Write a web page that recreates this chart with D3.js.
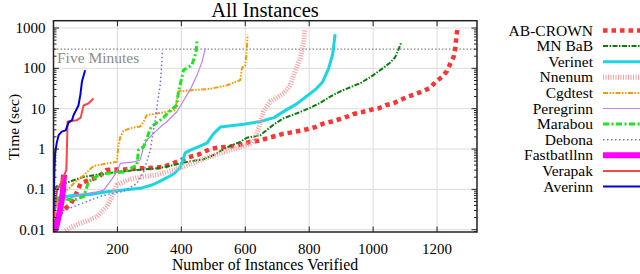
<!DOCTYPE html>
<html>
<head>
<meta charset="utf-8">
<script src="https://cdn.jsdelivr.net/npm/d3@7"></script>
<style>
  html, body { margin: 0; padding: 0; background: #fff; }
  svg { display: block; font-family: "Liberation Serif", "Times New Roman", serif; }
</style>
</head>
<body>
<svg id="chart" width="640" height="274"></svg>
<script>
// ---------- DATA (instances verified, time in sec) ----------
const abCrown = [[5,0.015],[20,0.025],[40,0.035],[55,0.045],[70,0.075],[85,0.14],[110,0.17],[140,0.2],[165,0.3],[195,0.31],[225,0.31],[260,0.33],[300,0.34],[345,0.36],[376,0.45],[420,0.62],[450,0.71],[490,1.0],[520,1.1],[550,1.14],[580,1.26],[615,1.5],[640,1.6],[668,1.84],[694,2.1],[715,2.35],[741,2.55],[767,2.8],[793,3.1],[819,3.5],[845,4.3],[871,4.8],[892,5.4],[918,6.3],[939,7.4],[965,8.2],[991,9.3],[1017,10.2],[1041,12.3],[1064,13.6],[1085,16.4],[1108,19.8],[1132,23],[1158,27.5],[1179,33],[1195,46],[1216,62],[1231,86],[1242,134],[1252,195],[1257,316],[1260,560],[1263,900]];
const mnBab = [[3,0.1],[10,0.12],[40,0.145],[90,0.2],[150,0.24],[215,0.28],[280,0.31],[334,0.34],[376,0.4],[418,0.48],[470,0.56],[501,0.71],[543,1.1],[584,1.5],[605,1.9],[647,2.2],[668,3],[694,4.3],[720,5.8],[762,7.7],[803,10.5],[835,14],[866,20],[898,27],[929,34],[960,43],[991,60],[1022,90],[1054,140],[1069,190],[1080,300],[1087,420]];
const verinet = [[2,0.05],[10,0.06],[31,0.065],[60,0.07],[115,0.075],[167,0.087],[219,0.096],[271,0.106],[310,0.13],[334,0.16],[376,0.24],[397,0.35],[412,0.8],[430,0.95],[449,1.1],[480,1.4],[501,2.4],[522,3.5],[595,4.1],[647,4.8],[690,6],[727,9.2],[760,13],[791,20],[820,30],[842,46],[861,100],[874,235],[881,700]];
const nnenum = [[37,0.0095],[60,0.012],[84,0.0144],[110,0.017],[136,0.021],[155,0.03],[167,0.037],[183,0.066],[198,0.128],[230,0.17],[271,0.2],[324,0.23],[376,0.3],[420,0.4],[472,0.58],[536,0.86],[587,1.15],[621,1.4],[632,2.0],[645,4],[657,8.4],[678,15],[720,24],[741,38],[751,68],[772,178],[783,460],[786,950]];
const cgdtest = [[2,0.02],[10,0.045],[25,0.08],[45,0.1],[63,0.14],[94,0.22],[125,0.38],[167,0.44],[198,0.48],[203,1.2],[209,2.0],[219,2.8],[240,3.3],[271,3.6],[282,4.8],[292,7],[334,7.8],[381,9.2],[391,27],[438,29],[490,31],[543,38],[584,51],[590,105],[600,115],[605,300],[607,680]];
const peregrinn = [[3,0.03],[20,0.05],[50,0.06],[89,0.075],[130,0.085],[157,0.096],[177,0.155],[198,0.27],[209,0.44],[251,0.48],[271,0.53],[282,1.14],[292,1.67],[313,2.45],[334,3.5],[355,4.8],[386,8.4],[407,16],[428,30],[449,68],[465,147],[475,316]];
const marabou = [[3,0.05],[21,0.06],[63,0.054],[94,0.066],[110,0.155],[140,0.22],[167,0.25],[219,0.27],[261,0.4],[266,0.94],[282,1.14],[292,1.84],[305,3.5],[320,4.3],[344,6],[365,9],[385,12],[391,26],[407,91],[433,121],[446,250],[449,500]];
const debona = [[3,0.02],[15,0.028],[38,0.031],[89,0.045],[153,0.07],[219,0.09],[261,0.14],[282,0.27],[292,0.5],[303,0.94],[310,2.2],[318,5],[326,15],[334,40],[338,110],[341,285]];
const fastbatllnn = [[1,0.0088],[5,0.01],[10,0.013],[16,0.021],[20,0.03],[24,0.045],[28,0.07],[30,0.1],[31,0.15],[33,0.23]];
const verapak = [[2,0.02],[6,0.05],[12,0.1],[21,0.13],[31,0.2],[40,0.3],[42,1],[44,4.8],[73,5.2],[85,6],[94,12],[110,13.6],[125,18]];
const averinn = [[0,0.03],[1,0.06],[3,0.3],[5,0.78],[10,1.4],[16,2.2],[26,2.7],[38,2.9],[47,4.5],[58,5.2],[63,7],[78,12],[84,22],[89,47],[99,90]];

const seriesNames = ["AB-CROWN","MN BaB","Verinet","Nnenum","Cgdtest","Peregrinn","Marabou","Debona","Fastbatllnn","Verapak","Averinn"];
const seriesData = [abCrown, mnBab, verinet, nnenum, cgdtest, peregrinn, marabou, debona, fastbatllnn, verapak, averinn];
const xTicks = [200, 400, 600, 800, 1000, 1200];
const yTicks = [0.01, 0.1, 1, 10, 100, 1000];
const yTickLabels = ["0.01", "0.1", "1", "10", "100", "1000"];
const fiveMinutes = 300;

// ---------- STYLES ----------
const styles = [
  {color:"#ff3333", width:4.5, dash:"4.5,4"},
  {color:"#0b7d0b", width:2,   dash:"5,1.5,1.5,1.5"},
  {color:"#1ad6e0", width:3,   dash:null},
  {color:"#ff9c9c", width:5,   dash:"1,1.5"},
  {color:"#ff9900", width:2,   dash:"5,1.5,1.5,1.5,1.5,1.5"},
  {color:"#c27ff0", width:1.2, dash:null},
  {color:"#1ee61e", width:3,   dash:"6,2.5,2,2.5"},
  {color:"#6d6dff", width:1.5, dash:"1.5,2.5"},
  {color:"#ff00ff", width:6,   dash:null},
  {color:"#ff4444", width:2,   dash:null},
  {color:"#0000dd", width:2,   dash:null}
];

// ---------- LAYOUT ----------
const L = 53.5, R = 477, T = 20.7, B = 232;
const svg = d3.select("#chart");
const x = d3.scaleLinear().domain([0, 1325]).range([L, R]);
const y = d3.scaleLog().domain([0.00877, 1517]).range([B, T]);

svg.append("defs").append("clipPath").attr("id", "plotClip")
  .append("rect").attr("x", L).attr("y", T).attr("width", R - L).attr("height", B - T);

// grid
const grid = svg.append("g").attr("stroke", "#dcdcdc").attr("stroke-width", 1);
grid.selectAll("line.gx").data(xTicks).join("line")
  .attr("x1", d => x(d)).attr("x2", d => x(d)).attr("y1", T).attr("y2", B);
grid.selectAll("line.gy").data(yTicks).join("line")
  .attr("x1", L).attr("x2", R).attr("y1", d => y(d)).attr("y2", d => y(d));

// five minutes line
svg.append("line")
  .attr("x1", L).attr("x2", R).attr("y1", y(fiveMinutes)).attr("y2", y(fiveMinutes))
  .attr("stroke", "#666").attr("stroke-width", 1).attr("stroke-dasharray", "1.5,2");
svg.append("text").attr("x", L + 3.5).attr("y", 63).attr("font-size", 15.5)
  .attr("fill", "#8c8c8c").text("Five Minutes");

// series
const line = d3.line().x(d => x(d[0])).y(d => y(d[1]));
const plot = svg.append("g").attr("clip-path", "url(#plotClip)");
seriesData.forEach((data, i) => {
  const s = styles[i];
  plot.append("path").attr("d", line(data))
    .attr("fill", "none").attr("stroke", s.color).attr("stroke-width", s.width)
    .attr("stroke-dasharray", s.dash).attr("stroke-linejoin", "round");
});

// axes with inward ticks, mirrored
const minorTicks = [];
for (let e = -3; e <= 3; e++) for (let m = 2; m <= 9; m++) {
  const v = m * Math.pow(10, e);
  if (v > y.domain()[0] && v < y.domain()[1]) minorTicks.push(v);
}
const axG = svg.append("g").attr("stroke", "#222").attr("stroke-width", 1);
[B, T].forEach(yy => {
  const dir = yy === B ? -1 : 1;
  axG.selectAll(null).data(xTicks).join("line")
    .attr("x1", d => x(d)).attr("x2", d => x(d)).attr("y1", yy).attr("y2", yy + dir * 5.5);
});
[L, R].forEach(xx => {
  const dir = xx === L ? 1 : -1;
  axG.selectAll(null).data(yTicks).join("line")
    .attr("y1", d => y(d)).attr("y2", d => y(d)).attr("x1", xx).attr("x2", xx + dir * 5.5);
  axG.selectAll(null).data(minorTicks).join("line")
    .attr("y1", d => y(d)).attr("y2", d => y(d)).attr("x1", xx).attr("x2", xx + dir * 3);
});
svg.append("rect").attr("x", L).attr("y", T).attr("width", R - L).attr("height", B - T)
  .attr("fill", "none").attr("stroke", "#222").attr("stroke-width", 1.5);

// tick labels
svg.append("g").selectAll("text").data(xTicks).join("text")
  .attr("x", d => x(d)).attr("y", 254).attr("text-anchor", "middle").attr("font-size", 15)
  .text(d => d);
svg.append("g").selectAll("text").data(yTicks).join("text")
  .attr("x", 45.5).attr("y", d => y(d) + 5).attr("text-anchor", "end").attr("font-size", 15)
  .text((d, i) => yTickLabels[i]);

// titles
svg.append("text").attr("x", 265).attr("y", 17).attr("text-anchor", "middle")
  .attr("font-size", 20.5).text("All Instances");
svg.append("text").attr("x", 265).attr("y", 270).attr("text-anchor", "middle")
  .attr("font-size", 15.8).text("Number of Instances Verified");
svg.append("text").attr("transform", "translate(19,127) rotate(-90)")
  .attr("text-anchor", "middle").attr("font-size", 15.5).text("Time (sec)");

// legend
const leg = svg.append("g");
seriesNames.forEach((name, i) => {
  const yy = 30.5 + i * 15.6;
  const s = styles[i];
  leg.append("text").attr("x", 593).attr("y", yy + 5).attr("text-anchor", "end")
    .attr("font-size", 15.5).text(name);
  leg.append("line").attr("x1", 603).attr("x2", 660).attr("y1", yy).attr("y2", yy)
    .attr("stroke", s.color).attr("stroke-width", s.width).attr("stroke-dasharray", s.dash);
});
</script>
</body>
</html>
